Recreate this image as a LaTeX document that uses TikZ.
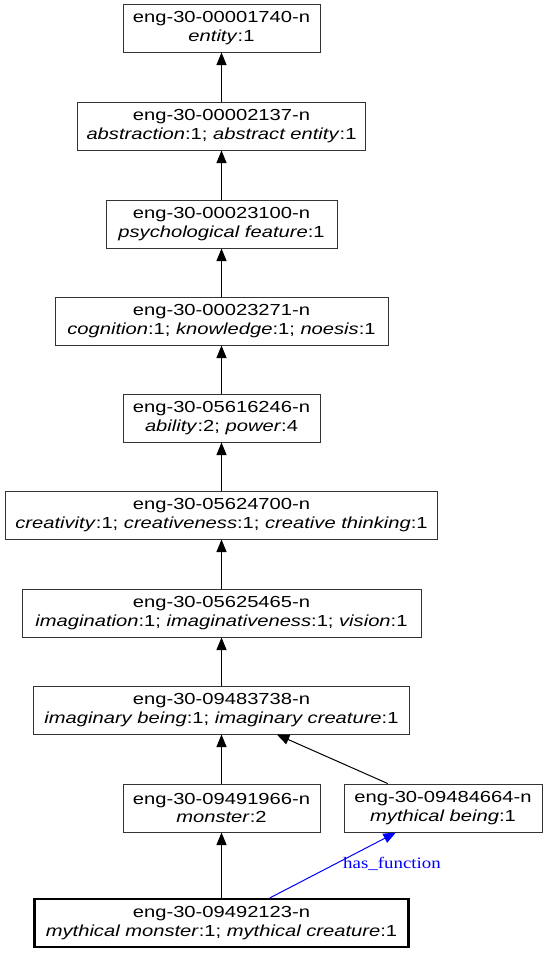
\documentclass[tikz,border=0pt]{standalone}
\usepackage{fontspec}
\setmainfont{Liberation Sans}[FakeStretch=1.26]
\newfontfamily\labelfont{Liberation Serif}[FakeStretch=1.18]
\usetikzlibrary{arrows.meta}
\tikzset{
  syn/.style={draw=black!80, line width=1pt, rectangle, inner sep=0pt,
    minimum height=48pt, align=center, font=\fontsize{16}{18.5}\selectfont},
  focus/.style={syn, line width=2.2pt, draw=black},
  isa/.style={draw=black, line width=1pt, -{Triangle[length=12.5pt,width=10pt]}},
  rel/.style={draw=blue, line width=1pt, -{Triangle[length=12.5pt,width=10pt]}},
  rellabel/.style={text=blue, font=\labelfont\fontsize{16}{18}\selectfont, inner sep=0pt}
}
\begin{document}
\begin{tikzpicture}[x=1pt,y=-1pt]
\useasboundingbox (0,0) rectangle (547,953);
\node[syn, minimum width=197pt] (n1) at (221.5,28) {eng-30-00001740-n\\\textit{entity}:1};
\node[syn, minimum width=288pt] (n2) at (221.5,126) {eng-30-00002137-n\\\textit{abstraction}:1; \textit{abstract entity}:1};
\node[syn, minimum width=231pt] (n3) at (221.5,224) {eng-30-00023100-n\\\textit{psychological feature}:1};
\node[syn, minimum width=333pt] (n4) at (221.5,321) {eng-30-00023271-n\\\textit{cognition}:1; \textit{knowledge}:1; \textit{noesis}:1};
\node[syn, minimum width=197pt] (n5) at (221.5,418) {eng-30-05616246-n\\\textit{ability}:2; \textit{power}:4};
\node[syn, minimum width=432pt] (n6) at (221.5,515) {eng-30-05624700-n\\\textit{creativity}:1; \textit{creativeness}:1; \textit{creative thinking}:1};
\node[syn, minimum width=399pt] (n7) at (221.5,613) {eng-30-05625465-n\\\textit{imagination}:1; \textit{imaginativeness}:1; \textit{vision}:1};
\node[syn, minimum width=376pt] (n8) at (221.5,710) {eng-30-09483738-n\\\textit{imaginary being}:1; \textit{imaginary creature}:1};
\node[syn, minimum width=197pt] (n9) at (221.5,808) {eng-30-09491966-n\\\textit{monster}:2};
\node[syn, minimum width=198pt] (n10) at (443,808) {eng-30-09484664-n\\\textit{mythical being}:1};
\node[focus, minimum width=374pt] (n11) at (221.5,923) {eng-30-09492123-n\\\textit{mythical monster}:1; \textit{mythical creature}:1};
\draw[isa] (n2) -- (n1);
\draw[isa] (n3) -- (n2);
\draw[isa] (n4) -- (n3);
\draw[isa] (n5) -- (n4);
\draw[isa] (n6) -- (n5);
\draw[isa] (n7) -- (n6);
\draw[isa] (n8) -- (n7);
\draw[isa] (n9) -- (n8);
\draw[isa] (n10) -- (n8);
\draw[isa] (n11) -- (n9);
\draw[rel] (n11) -- (n10);
\node[rellabel] (lab) at (392,864) {has\_function};
\end{tikzpicture}
\end{document}
